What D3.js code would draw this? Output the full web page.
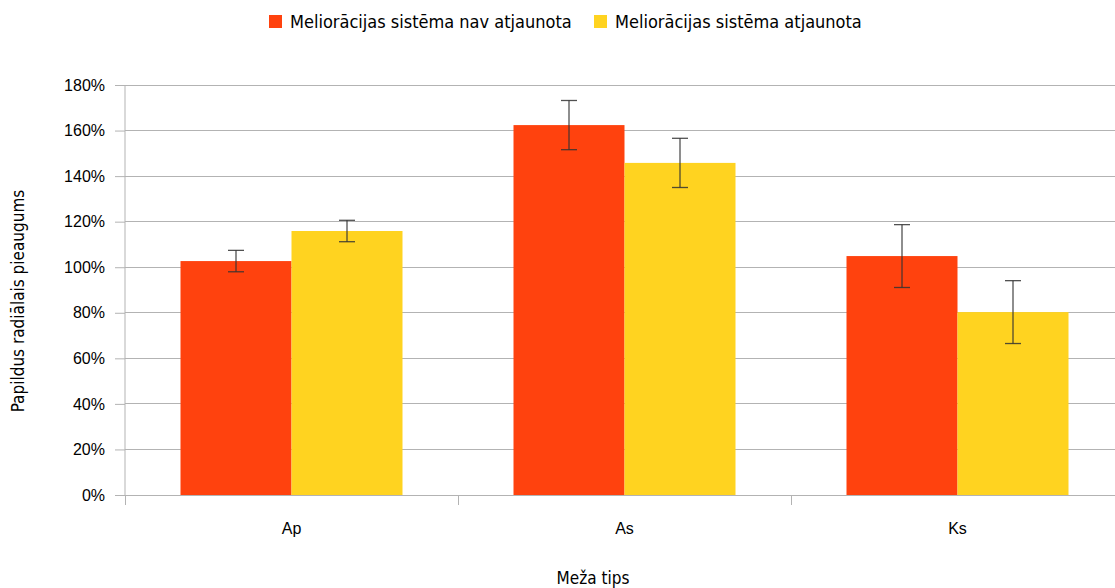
<!DOCTYPE html>
<html><head><meta charset="utf-8">
<script src="https://cdn.jsdelivr.net/npm/d3@7"></script>
<style>
body{margin:0;background:#fff;}
svg{font-family:"Liberation Sans Narrow","DejaVu Sans Condensed",sans-serif;}
</style></head>
<body><svg id="c" width="1115" height="588"></svg>
<script>
const categories = ["Ap", "As", "Ks"];
const seriesNames = ["Meliorācijas sistēma nav atjaunota", "Meliorācijas sistēma atjaunota"];
const seriesColors = ["#ff420e", "#ffd320"];
const valuesNav = [102.7, 162.4, 104.9];
const valuesAtj = [115.9, 145.8, 80.3];
const errNav = [4.7, 10.8, 13.8];
const errAtj = [4.7, 10.8, 13.8];
const yTicks = [0, 20, 40, 60, 80, 100, 120, 140, 160, 180];
const yTitle = "Papildus radiālais pieaugums";
const xTitle = "Meža tips";

const svg = d3.select("#c");
const L = 125, R = 1124, T = 85, B = 495;
const x = d3.scaleBand().domain(categories).range([L, R]).paddingInner(0).paddingOuter(0);
const y = d3.scaleLinear().domain([0, 180]).range([B, T]);
const xs = d3.scaleBand().domain([0, 1]).range([0, x.bandwidth()]).paddingInner(0).paddingOuter(0.5);

// gridlines
svg.append("g").selectAll("line").data(yTicks).join("line")
  .attr("x1", L).attr("x2", R).attr("y1", d => y(d)).attr("y2", d => y(d))
  .attr("stroke", "#b3b3b3").attr("stroke-width", 1).attr("shape-rendering", "crispEdges");

// y axis
const yAxis = d3.axisLeft(y).tickValues(yTicks).tickFormat(d => d + "%").tickSize(10).tickPadding(10);
const gy = svg.append("g").attr("transform", `translate(${L},0)`).call(yAxis);
gy.select(".domain").attr("stroke", "#b3b3b3").attr("d", `M-0,${B}V${T}`);
gy.selectAll(".tick line").attr("stroke", "#b3b3b3");
gy.selectAll(".tick text").attr("font-size", 16).attr("fill", "#000").attr("font-family", null);

// x axis
const xAxis = d3.axisBottom(x).tickSize(0).tickPadding(28);
const gx = svg.append("g").attr("transform", `translate(0,${B})`).call(xAxis);
gx.select(".domain").attr("stroke", "#b3b3b3");
gx.selectAll(".tick text").attr("font-size", 16).attr("fill", "#000").attr("font-family", null);
// category separator ticks
svg.append("g").selectAll("line").data(categories).join("line")
  .attr("x1", d => x(d)).attr("x2", d => x(d)).attr("y1", B).attr("y2", B + 10)
  .attr("stroke", "#b3b3b3").attr("shape-rendering", "crispEdges");

const rows = categories.map((c, i) => [
  {c, s: 0, v: valuesNav[i], e: errNav[i]},
  {c, s: 1, v: valuesAtj[i], e: errAtj[i]}
]).flat();

svg.append("g").selectAll("rect").data(rows).join("rect")
  .attr("x", d => x(d.c) + xs(d.s)).attr("width", xs.bandwidth())
  .attr("y", d => y(d.v)).attr("height", d => y(0) - y(d.v))
  .attr("fill", d => seriesColors[d.s]);

// error bars
const eg = svg.append("g").attr("stroke", "#333").attr("stroke-opacity", 0.85).attr("stroke-width", 1.3);
rows.forEach(d => {
  const cx = x(d.c) + xs(d.s) + xs.bandwidth() / 2;
  const y1 = y(d.v + d.e), y2 = y(d.v - d.e);
  eg.append("line").attr("x1", cx).attr("x2", cx).attr("y1", y1).attr("y2", y2);
  eg.append("line").attr("x1", cx - 8).attr("x2", cx + 8).attr("y1", y1).attr("y2", y1);
  eg.append("line").attr("x1", cx - 8).attr("x2", cx + 8).attr("y1", y2).attr("y2", y2);
});

// axis titles
svg.append("text").attr("x", 593).attr("y", 584).attr("text-anchor", "middle")
  .attr("font-size", 17).text(xTitle);
svg.append("text").attr("transform", "translate(24,301) rotate(-90)").attr("text-anchor", "middle")
  .attr("font-size", 17).text(yTitle);

// legend
const lg = svg.append("g");
const legX = [269, 594];
seriesNames.forEach((n, i) => {
  lg.append("rect").attr("x", legX[i]).attr("y", 15).attr("width", 13).attr("height", 13).attr("fill", seriesColors[i]);
  lg.append("text").attr("x", legX[i] + 21).attr("y", 28).attr("font-size", 18).text(n);
});
</script></body></html>
